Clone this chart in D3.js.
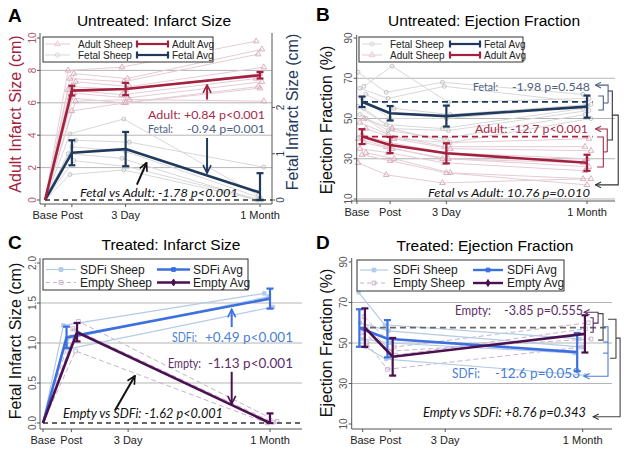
<!DOCTYPE html>
<html><head><meta charset="utf-8">
<script src="https://cdn.jsdelivr.net/npm/d3@7"></script>
<style>
body{margin:0;background:#fff}
svg{display:block}
text{font-family:"Liberation Sans",Arial,sans-serif}
.ann{font-family:Lato,"Open Sans",sans-serif;white-space:pre}
</style>
</head><body>
<svg id="c" width="629" height="451"></svg>
<script>
// ================= DATA =================
const timeLabels = ["Base", "Post", "3 Day", "1 Month"];
const timeX = [0, 1, 3, 8];

// Panel A – Untreated infarct size
const aAdultTicks = [0, 2, 4, 6, 8, 10];
const aFetalTicks = [0, 1, 2];
const aAdultAvg = [0, 6.75, 6.85, 7.7];
const aAdultErr = [0, 0.3, 0.38, 0.2];
const aFetalAvg = [0, 1.02, 1.1, 0.16];
const aFetalErr = [0, 0.27, 0.37, 0.42];
const aAdultSheep = [
  [0, 8.0, 8.2, 9.8], [0, 7.8, 7.5, 9.3], [0, 7.5, 7.3, 9.0], [0, 7.3, 7.0, 8.2],
  [0, 7.0, 6.8, 7.8], [0, 6.8, 6.5, 7.5], [0, 6.6, 6.3, 7.3], [0, 6.3, 6.0, 7.0],
  [0, 6.1, 6.2, 6.1], [0, 5.5, 6.0, 6.9]
];
const aFetalSheep = [
  [0, 1.43, 1.75, 0.10], [0, 1.29, 1.25, 0.71], [0, 1.15, 1.05, 0.05],
  [0, 1.0, 0.9, 0.0], [0, 0.85, 0.72, 0.0], [0, 0.55, 0.65, 0.0]
];

// Panel B – Untreated ejection fraction
const efTicks = [10, 30, 50, 70, 90];
const bFetalAvg = [58.3, 52.6, 51.2, 55.9];
const bFetalErr = [2.6, 3.6, 5.2, 5.5];
const bAdultAvg = [41, 36.8, 32.7, 28];
const bAdultErr = [3.7, 4.0, 5.0, 4.0];
const bFetalBaseline = 58.3;
const bAdultBaseline = 41;
const bFetalSheep = [
  [73, 63, 68, 62], [66, 76, 58, 60], [65, 60, 66, 58], [62, 55, 52, 57], [60, 50, 50, 56],
  [56, 47, 45, 55], [55, 45, 44, 54], [52, 44, 40, 52], [50, 40, 38, 50]
];
const bAdultSheep = [
  [50, 45, 38, 40], [48, 42, 36, 36], [45, 40, 35, 34], [42, 38, 33, 30], [40, 36, 30, 28],
  [38, 35, 30, 26], [35, 33, 28, 24], [33, 30, 23, 20], [32, 29, 23, 17], [28, 22, 18, 20]
];

// Panel C – Treated infarct size (fetal)
const cTicks = [0, 0.5, 1.0, 1.5, 2.0];
const cSdfiAvgX = [0, 0.83, 8];
const cSdfiAvg = [0, 1.07, 1.555];
const cSdfiErr = [0, 0.135, 0.125];
const cEmptyAvgX = [0, 1.2, 8];
const cEmptyAvg = [0, 1.135, 0];
const cEmptyErr = [0, 0.115, 0.12];
const cSdfiSheepX = [[0, 0.72, 7.8], [0, 0.95, 8.1], [0, 0.85, 7.95]];
const cSdfiSheep = [[0, 1.22, 1.62], [0, 0.93, 1.45], [0, 1.05, 1.58]];
const cEmptySheepX = [[0, 1.25, 8.25], [0, 1.15, 7.9], [0, 1.05, 8.1]];
const cEmptySheep = [[0, 1.27, 0.02], [0, 0.9, 0], [0, 1.18, 0.01]];

// Panel D – Treated ejection fraction
const dSdfiAvgX = [-0.12, 0.9, 7.8];
const dSdfiAvg = [57.4, 52.1, 45.5];
const dSdfiErr = [9.25, 9.2, 9.45];
const dEmptyAvgX = [0.08, 1.09, 8.08];
const dEmptyAvg = [57.6, 43.2, 54.5];
const dEmptyErr = [9.5, 9.3, 9.2];
const dBaseline = 57.6;
const dSdfiSheepX = [[-0.15, 0.8, 7.9], [-0.1, 0.95, 8.0], [0.0, 1.0, 7.7], [0.1, 0.85, 8.1]];
const dSdfiSheep = [[75, 59, 52], [60, 56, 48], [52, 50, 45], [48, 42, 34]];
const dEmptySheepX = [[0.05, 1.15, 8.2], [0.12, 1.2, 8.1], [-0.05, 1.05, 8.3], [0.15, 0.9, 7.95]];
const dEmptySheep = [[63, 48, 60], [58, 44, 57], [55, 46, 52], [50, 37, 48]];

// ================= STYLE =================
const C = {
  red: "#a3213f", redText: "#a52b47", navy: "#1f3a5c", navyText: "#4d6182",
  adultSheep: "#e6ccd5", adultMark: "#d6a9b9", fetalSheep: "#d8d8d8", fetalMark: "#bcbcbc",
  blue: "#3c6fe0", blueText: "#4a7fd6", blueSheep: "#b3cbe8",
  purple: "#4a1050", purpleText: "#5b2d66", purpleSheep: "#c9b2cd",
  grid: "#b5b5b5", axis: "#555"
};

const svg = d3.select("#c");
const defs = svg.append("defs");
function arrowDef(id, color, w) {
  defs.append("marker").attr("id", id).attr("viewBox", "0 0 10 10")
    .attr("refX", 9).attr("refY", 5).attr("markerWidth", w).attr("markerHeight", w)
    .attr("markerUnits", "userSpaceOnUse").attr("orient", "auto")
    .append("path").attr("d", "M1,1 L9,5 L1,9").attr("fill", "none")
    .attr("stroke", color).attr("stroke-width", 1.6);
}
arrowDef("arR", C.red, 10); arrowDef("arN", C.navy, 10); arrowDef("arK", "#111", 10);
arrowDef("arB", C.blue, 10); arrowDef("arP", C.purple, 10);
arrowDef("smN", C.navyText, 7); arrowDef("smR", C.redText, 7); arrowDef("smK", "#333", 7);
arrowDef("smB", C.blueText, 7); arrowDef("smP", C.purpleText, 7);

// ================= HELPERS =================
function grid(g, x0, x1, y, vals) {
  g.selectAll(null).data(vals).join("line")
    .attr("x1", x0).attr("x2", x1).attr("y1", d => y(d)).attr("y2", d => y(d))
    .attr("stroke", C.grid).attr("stroke-width", 1);
}
function yAxis(g, xPos, y, vals, fmt, color, side, y0, y1) {
  g.append("line").attr("x1", xPos).attr("x2", xPos).attr("y1", y0).attr("y2", y1)
    .attr("stroke", C.axis).attr("stroke-width", 1);
  const s = side === "left" ? -1 : 1;
  g.selectAll(null).data(vals).join("line")
    .attr("x1", xPos).attr("x2", xPos + s * 3).attr("y1", d => y(d)).attr("y2", d => y(d))
    .attr("stroke", C.axis);
  g.selectAll(null).data(vals).join("text")
    .attr("transform", d => `translate(${xPos + s * 8},${y(d)}) rotate(-90)`)
    .attr("text-anchor", "middle").attr("dominant-baseline", "central")
    .attr("font-size", 10).attr("fill", color).text(fmt);
}
function xAxis(g, yPos, x, ticks, x0, x1) {
  g.append("line").attr("x1", x0).attr("x2", x1).attr("y1", yPos).attr("y2", yPos)
    .attr("stroke", C.axis);
  g.selectAll(null).data(ticks).join("line")
    .attr("x1", d => x(d.v)).attr("x2", d => x(d.v)).attr("y1", yPos).attr("y2", yPos + 3)
    .attr("stroke", C.axis);
  g.selectAll(null).data(ticks).join("text")
    .attr("x", d => x(d.v)).attr("y", yPos + 15).attr("text-anchor", "middle")
    .attr("font-size", 11).attr("fill", "#222").text(d => d.l);
}
function poly(g, xs, ys, x, y, color, w, dash) {
  const pts = xs.map((v, i) => [x(v), y(ys[i])]);
  g.append("path").attr("d", d3.line()(pts)).attr("fill", "none")
    .attr("stroke", color).attr("stroke-width", w).attr("stroke-dasharray", dash || null)
    .attr("stroke-linejoin", "round");
}
function marks(g, xs, ys, x, y, type, color, size, filled) {
  const sym = d3.symbol().type(type).size(size);
  g.selectAll(null).data(xs.map((v, i) => [v, ys[i]])).join("path")
    .attr("d", sym).attr("transform", d => `translate(${x(d[0])},${y(d[1])})`)
    .attr("fill", filled ? color : "none").attr("stroke", color).attr("stroke-width", 0.9);
}
function errbars(g, xs, ys, es, x, y, color, lo) {
  xs.forEach((v, i) => {
    if (!es[i]) return;
    const a = y(Math.max(lo, ys[i] - es[i])), b = y(ys[i] + es[i]), cx = x(v);
    g.append("line").attr("x1", cx).attr("x2", cx).attr("y1", a).attr("y2", b)
      .attr("stroke", color).attr("stroke-width", 2.2);
    [a, b].forEach(yy => g.append("line").attr("x1", cx - 3.5).attr("x2", cx + 3.5)
      .attr("y1", yy).attr("y2", yy).attr("stroke", color).attr("stroke-width", 2.2));
  });
}
function arrow(g, x1, y1, x2, y2, color, mk, w) {
  g.append("line").attr("x1", x1).attr("y1", y1).attr("x2", x2).attr("y2", y2)
    .attr("stroke", color).attr("stroke-width", w || 2).attr("marker-end", `url(#${mk})`);
}
function bracket(g, pts, x, y, color, mk) {
  const p = g.append("path").attr("d", d3.line()(pts.map(d => [x(d[0]), y(d[1])])))
    .attr("fill", "none").attr("stroke", color).attr("stroke-width", 1.1);
  if (mk) p.attr("marker-end", `url(#${mk})`);
}
// text with a fitted width (start x, baseline y, width)
function txt(g, s, xx, yy, len, fs, color, italic) {
  return g.append("text").attr("class", "ann").attr("x", xx).attr("y", yy)
    .attr("font-size", fs).attr("fill", color)
    .attr("textLength", len).attr("lengthAdjust", "spacingAndGlyphs")
    .attr("font-style", italic ? "italic" : null).text(s);
}
function title(letter, lx, ly, t, tx, ty) {
  svg.append("text").attr("x", lx).attr("y", ly).attr("font-size", 19).attr("font-weight", "bold").text(letter);
  svg.append("text").attr("x", tx).attr("y", ty).attr("font-size", 15.5).attr("text-anchor", "middle").text(t);
}
function yTitle(t, cx, cy, color) {
  svg.append("text").attr("transform", `translate(${cx},${cy}) rotate(-90)`)
    .attr("text-anchor", "middle").attr("dominant-baseline", "central")
    .attr("font-size", 16).attr("fill", color).text(t);
}
function legendBox(x0, y0, w, h) {
  svg.append("rect").attr("x", x0).attr("y", y0).attr("width", w).attr("height", h)
    .attr("fill", "#fff").attr("stroke", "#333").attr("stroke-width", 1);
}
function legendRow(x1, x2, yy, color, lw, dash, symType, symFill, caps, label, tx, fs) {
  svg.append("line").attr("x1", x1).attr("x2", x2).attr("y1", yy).attr("y2", yy)
    .attr("stroke", color).attr("stroke-width", lw).attr("stroke-dasharray", dash || null);
  if (caps) [x1, x2].forEach(cx => svg.append("line").attr("x1", cx).attr("x2", cx)
    .attr("y1", yy - 3.5).attr("y2", yy + 3.5).attr("stroke", color).attr("stroke-width", lw));
  if (symType) svg.append("path").attr("d", d3.symbol().type(symType).size(14)())
    .attr("transform", `translate(${(x1 + x2) / 2},${yy})`)
    .attr("fill", symFill ? color : "none").attr("stroke", color);
  svg.append("text").attr("x", tx).attr("y", yy).attr("dominant-baseline", "central")
    .attr("font-size", fs).attr("fill", "#222").text(label);
}
const jit = i => ((i * 3) % 5 - 2) * 0.07;

// ================= PANEL A =================
{
  const g = svg.append("g");
  const x = d3.scaleLinear().domain([0, 8]).range([45, 260]);
  const y = d3.scaleLinear().domain([0, 10]).range([200, 38]);
  const yf = d3.scaleLinear().domain([0, 3.5]).range([200, 38]);
  grid(g, 40, 272, y, [2, 4, 6, 8]);
  aFetalSheep.forEach((s, i) => {
    const xs = timeX.map((t, k) => k ? t + jit(i + 2) : t);
    poly(g, xs, s, x, yf, C.fetalSheep, 1);
    marks(g, xs.slice(1), s.slice(1), x, yf, d3.symbolCircle, C.fetalMark, 12, false);
  });
  aAdultSheep.forEach((s, i) => {
    const xs = timeX.map((t, k) => k ? t + jit(i) : t);
    poly(g, xs, s, x, y, C.adultSheep, 1);
    marks(g, xs.slice(1), s.slice(1), x, y, d3.symbolTriangle, C.adultMark, 14, false);
  });
  g.append("line").attr("x1", x(0)).attr("x2", 272).attr("y1", y(0)).attr("y2", y(0))
    .attr("stroke", "#333").attr("stroke-width", 1.3).attr("stroke-dasharray", "5,4");
  poly(g, timeX, aFetalAvg, x, yf, C.navy, 2.6);
  errbars(g, timeX, aFetalAvg, aFetalErr, x, yf, C.navy, 0);
  poly(g, timeX, aAdultAvg, x, y, C.red, 2.6);
  errbars(g, timeX, aAdultAvg, aAdultErr, x, y, C.red, 0);
  yAxis(g, 40, y, aAdultTicks, d => d, "#b0506a", "left", 33, 204);
  yAxis(g, 272, yf, aFetalTicks, d => d, C.navy, "right", 33, 204);
  xAxis(g, 204, x, timeX.map((v, i) => ({ v, l: timeLabels[i] })), 40, 272);
  // annotations
  arrow(g, x(6.03), y(6.2), x(6.03), y(7.1), C.red, "arR");
  arrow(g, x(6.03), yf(1.34), x(6.03), yf(0.58), C.navy, "arN");
  arrow(g, x(3.42), y(0.95), x(3.78), y(2.3), "#111", "arK");
  txt(g, "Adult: +0.84 p<0.001", 148, 119, 117, 11, C.redText);
  txt(g, "Fetal:", 148, 133, 25, 11, C.navyText);
  txt(g, "-0.94 p=0.001", 187, 133, 78, 11, C.navyText);
  txt(g, "Fetal vs Adult: -1.78 p<0.001", 80, 197, 158, 12, "#111", true);
}
title("A", 8, 22, "Untreated: Infarct Size", 154, 26);
yTitle("Adult Infarct Size (cm)", 15, 114, C.red);
yTitle("Fetal Infarct Size (cm)", 292, 112, C.navy);
legendBox(43, 37, 170, 25);
legendRow(45, 70, 44, C.adultSheep, 1, null, d3.symbolTriangle, false, false, "Adult Sheep", 78, 10);
legendRow(45, 70, 55, C.fetalSheep, 1, null, d3.symbolCircle, false, false, "Fetal Sheep", 78, 10);
legendRow(137, 168, 44, C.red, 2.2, null, null, false, true, "Adult Avg", 172, 10);
legendRow(137, 168, 55, C.navy, 2.2, null, null, false, true, "Fetal Avg", 172, 10);

// ================= PANEL B =================
{
  const g = svg.append("g");
  const x = d3.scaleLinear().domain([0, 8]).range([362, 587]);
  const y = d3.scaleLinear().domain([10, 90]).range([199, 38]);
  grid(g, 356.7, 615, y, [10, 30, 50, 70]);
  bFetalSheep.forEach((s, i) => {
    const xs = timeX.map(t => t + jit(i));
    poly(g, xs, s, x, y, C.fetalSheep, 1);
    marks(g, xs, s, x, y, d3.symbolCircle, C.fetalMark, 12, false);
  });
  bAdultSheep.forEach((s, i) => {
    const xs = timeX.map(t => t + jit(i + 1));
    poly(g, xs, s, x, y, C.adultSheep, 1);
    marks(g, xs, s, x, y, d3.symbolTriangle, C.adultMark, 14, false);
  });
  [[bFetalBaseline, C.navy], [bAdultBaseline, C.red]].forEach(([v, c]) =>
    g.append("line").attr("x1", x(0)).attr("x2", x(8.2)).attr("y1", y(v)).attr("y2", y(v))
      .attr("stroke", c).attr("stroke-width", 1.8).attr("stroke-dasharray", "6,4"));
  poly(g, timeX, bAdultAvg, x, y, C.red, 2.6);
  errbars(g, timeX, bAdultAvg, bAdultErr, x, y, C.red, 10);
  poly(g, timeX, bFetalAvg, x, y, C.navy, 2.6);
  errbars(g, timeX, bFetalAvg, bFetalErr, x, y, C.navy, 10);
  yAxis(g, 356.7, y, efTicks, d => d, "#555", "left", 35, 201);
  xAxis(g, 201, x, [{ v: -0.18, l: "Base" }, { v: 1, l: "Post" }, { v: 3, l: "3 Day" }, { v: 8, l: "1 Month" }], 352, 615);
  // brackets
  bracket(g, [[8.75, 57.7], [8.75, 66.6], [8.3, 66.6]], x, y, C.navyText, "smN");
  bracket(g, [[8.4, 61.2], [8.58, 61.2], [8.58, 54.2], [8.4, 54.2]], x, y, C.navyText);
  bracket(g, [[8.58, 57.7], [8.75, 57.7]], x, y, C.navyText);
  bracket(g, [[8.72, 33.4], [8.72, 44.8], [8.3, 44.8]], x, y, C.redText, "smR");
  bracket(g, [[8.36, 40.8], [8.58, 40.8], [8.58, 25.9], [8.36, 25.9]], x, y, C.redText);
  bracket(g, [[8.58, 33.4], [8.72, 33.4]], x, y, C.redText);
  bracket(g, [[8.75, 63.7], [8.9, 63.7], [8.9, 39.3], [8.72, 39.3]], x, y, "#333");
  bracket(g, [[8.9, 51.7], [9.11, 51.7], [9.11, 17], [8.3, 17]], x, y, "#333", "smK");
  txt(g, "Fetal:", 473, 90.5, 25, 12, C.navyText);
  txt(g, "-1.98 p=0.548", 512, 90.5, 78, 12, C.navyText);
  txt(g, "Adult: -12.7 p<0.001", 475, 133, 113, 12, C.redText);
  txt(g, "Fetal vs Adult: 10.76 p=0.010", 428, 197, 162, 12, "#111", true);
}
title("B", 316, 21, "Untreated: Ejection Fraction", 484, 26);
yTitle("Ejection Fraction (%)", 326, 120, "#111");
legendBox(359, 37, 164, 25);
legendRow(362, 382, 44, C.fetalSheep, 1, null, d3.symbolCircle, false, false, "Fetal Sheep", 390, 10);
legendRow(362, 382, 55, C.adultSheep, 1, null, d3.symbolTriangle, false, false, "Adult Sheep", 390, 10);
legendRow(450, 480, 44, C.navy, 2.2, null, null, false, true, "Fetal Avg", 484, 10);
legendRow(450, 480, 55, C.red, 2.2, null, null, false, true, "Adult Avg", 484, 10);

// ================= PANEL C =================
{
  const g = svg.append("g");
  const x = d3.scaleLinear().domain([0, 8]).range([43, 270]);
  const y = d3.scaleLinear().domain([0, 2]).range([423, 263]);
  grid(g, 40, 302, y, [0.5, 1.0, 1.5]);
  cEmptySheep.forEach((s, i) => {
    poly(g, cEmptySheepX[i], s, x, y, C.purpleSheep, 1, "5,3");
    marks(g, cEmptySheepX[i].slice(1), s.slice(1), x, y, d3.symbolSquare, C.purpleSheep, 14, false);
  });
  cSdfiSheep.forEach((s, i) => {
    poly(g, cSdfiSheepX[i], s, x, y, C.blueSheep, 1.2);
    marks(g, cSdfiSheepX[i].slice(1), s.slice(1), x, y, d3.symbolSquare, C.blueSheep, 12, true);
  });
  g.append("line").attr("x1", x(0)).attr("x2", 302).attr("y1", y(0)).attr("y2", y(0))
    .attr("stroke", "#333").attr("stroke-width", 1.3).attr("stroke-dasharray", "5,4");
  poly(g, cSdfiAvgX, cSdfiAvg, x, y, C.blue, 2.6);
  errbars(g, cSdfiAvgX, cSdfiAvg, cSdfiErr, x, y, C.blue, 0);
  poly(g, cEmptyAvgX, cEmptyAvg, x, y, C.purple, 2.6);
  errbars(g, cEmptyAvgX, cEmptyAvg, cEmptyErr, x, y, C.purple, 0);
  yAxis(g, 40, y, cTicks, d3.format(".1f"), "#555", "left", 258, 429);
  xAxis(g, 429, x, timeX.map((v, i) => ({ v, l: timeLabels[i] })), 40, 302);
  arrow(g, x(6.65), y(1.2), x(6.65), y(1.42), C.blue, "arB");
  arrow(g, x(6.65), y(0.64), x(6.65), y(0.24), C.purple, "arP");
  arrow(g, x(2.54), y(0.16), x(3.24), y(0.59), "#111", "arK");
  txt(g, "SDFi:", 172, 342, 25, 13.5, C.blueText);
  txt(g, "+0.49 p<0.001", 205, 342, 88, 13.5, C.blueText);
  txt(g, "Empty:", 168, 368, 33, 13.5, C.purpleText);
  txt(g, "-1.13 p<0.001", 208, 368, 85, 13.5, C.purpleText);
  txt(g, "Empty vs SDFi: -1.62 p<0.001", 63, 418, 160, 13.5, "#111", true);
}
title("C", 8, 249, "Treated: Infarct Size", 171, 250);
yTitle("Fetal Infarct Size (cm)", 15, 341, "#111");
legendBox(43, 259, 205, 31);
legendRow(46, 76, 269.5, C.blueSheep, 1.2, null, d3.symbolSquare, true, false, "SDFi Sheep", 80, 12);
legendRow(46, 76, 282.5, C.purpleSheep, 1, "4,3", d3.symbolSquare, false, false, "Empty Sheep", 80, 12);
legendRow(157, 190, 269.5, C.blue, 2.4, null, d3.symbolSquare, true, false, "SDFi Avg", 193, 12);
legendRow(157, 190, 282.5, C.purple, 2.4, null, d3.symbolDiamond, true, false, "Empty Avg", 193, 12);

// ================= PANEL D =================
{
  const g = svg.append("g");
  const x = d3.scaleLinear().domain([0, 8]).range([362.7, 582.7]);
  const y = d3.scaleLinear().domain([10, 90]).range([424, 262]);
  grid(g, 351.7, 612, y, [30, 50, 70]);
  dEmptySheep.forEach((s, i) => {
    poly(g, dEmptySheepX[i], s, x, y, C.purpleSheep, 1, "5,3");
    marks(g, dEmptySheepX[i], s, x, y, d3.symbolSquare, C.purpleSheep, 14, false);
  });
  dSdfiSheep.forEach((s, i) => {
    poly(g, dSdfiSheepX[i], s, x, y, C.blueSheep, 1.2);
    marks(g, dSdfiSheepX[i], s, x, y, d3.symbolSquare, C.blueSheep, 10, true);
  });
  g.append("line").attr("x1", x(-0.1)).attr("x2", x(8.9)).attr("y1", y(dBaseline)).attr("y2", y(dBaseline))
    .attr("stroke", "#666").attr("stroke-width", 1.8).attr("stroke-dasharray", "6,4");
  poly(g, dSdfiAvgX, dSdfiAvg, x, y, C.blue, 2.6);
  errbars(g, dSdfiAvgX, dSdfiAvg, dSdfiErr, x, y, C.blue, 10);
  poly(g, dEmptyAvgX, dEmptyAvg, x, y, C.purple, 2.6);
  errbars(g, dEmptyAvgX, dEmptyAvg, dEmptyErr, x, y, C.purple, 10);
  yAxis(g, 351.7, y, efTicks, d => d, "#555", "left", 258, 429);
  xAxis(g, 429, x, timeX.map((v, i) => ({ v, l: timeLabels[i] })), 351.7, 612);
  // brackets
  bracket(g, [[8.38, 59.8], [8.56, 59.8], [8.56, 65.2], [8.05, 65.2]], x, y, C.purpleText, "smP");
  bracket(g, [[8.27, 62.5], [8.38, 62.5], [8.38, 55.3], [8.27, 55.3]], x, y, C.purpleText);
  bracket(g, [[8.56, 64.5], [8.74, 64.5], [8.74, 51.4], [8.56, 51.4]], x, y, "#444");
  bracket(g, [[8.74, 58], [8.92, 58], [8.92, 33.6], [8.05, 33.6]], x, y, C.blueText, "smB");
  bracket(g, [[8.74, 50.5], [8.92, 50.5]], x, y, C.blueText);
  bracket(g, [[8.74, 45], [8.92, 45]], x, y, C.blueText);
  bracket(g, [[8.92, 61.7], [9.21, 61.7], [9.21, 42.5], [8.99, 42.5]], x, y, "#444");
  bracket(g, [[9.21, 52.4], [9.36, 52.4], [9.36, 13.6], [8.38, 13.6]], x, y, "#444", "smK");
  txt(g, "Empty:", 455, 314.5, 36, 13.5, C.purpleText);
  txt(g, "-3.85 p=0.555", 504, 314.5, 79, 13.5, C.purpleText);
  txt(g, "SDFi:", 452, 378, 28, 13.5, C.blueText);
  txt(g, "-12.6 p=0.053", 495, 378, 85, 13.5, C.blueText);
  txt(g, "Empty vs SDFi: +8.76 p=0.343", 423, 417, 163, 13.5, "#111", true);
}
title("D", 316, 249, "Treated: Ejection Fraction", 485, 251);
yTitle("Ejection Fraction (%)", 326, 343, "#111");
legendBox(357, 260, 207, 31);
legendRow(360, 388, 270, C.blueSheep, 1.2, null, d3.symbolSquare, true, false, "SDFi Sheep", 393, 12);
legendRow(360, 388, 283, C.purpleSheep, 1, "4,3", d3.symbolSquare, false, false, "Empty Sheep", 393, 12);
legendRow(473, 503, 270, C.blue, 2.4, null, d3.symbolSquare, true, false, "SDFi Avg", 507, 12);
legendRow(473, 503, 283, C.purple, 2.4, null, d3.symbolDiamond, true, false, "Empty Avg", 507, 12);
</script>
</body></html>
